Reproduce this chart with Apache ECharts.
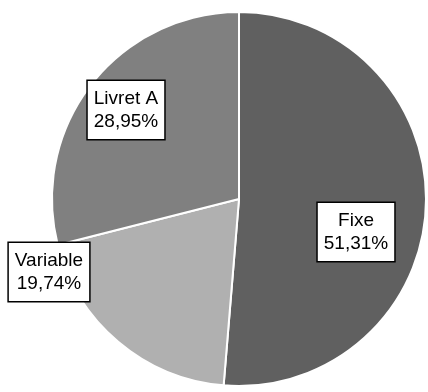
<!DOCTYPE html>
<html>
<head>
<meta charset="UTF-8">
<title>Répartition</title>
<script type="text/javascript" src="https://cdn.jsdelivr.net/npm/echarts@6/dist/echarts.min.js"></script>
<style>
  body{margin:0;background:#fff}
</style>
</head>
<body>
<div id="main" style="width:428px;height:392px"></div>
<script type="text/javascript">
	var categories = ['Fixe', 'Variable', 'Livret A'];
	var values = [51.31, 19.74, 28.95];
	var colors = ['#606060', '#b0b0b0', '#808080'];

	// où poser chaque étiquette (centre de la boîte)
	var labelCenters = [[356, 232], [49, 272], [126, 110]];

	var myEcharts = echarts.init(document.getElementById('main'));

	var option = {
	    animation: false,
	    series: [
	        {
	            type: 'pie',
	            center: [239, 199],
	            radius: 187,
	            startAngle: 90,
	            clockwise: true,
	            itemStyle: {
	                borderColor: '#fff',
	                borderWidth: 2
	            },
	            label: {
	                show: true,
	                position: 'inside',
	                formatter: function (p) {
	                    return p.name + '\n' + p.value.toFixed(2).replace('.', ',') + '%';
	                },
	                fontFamily: 'Liberation Sans, Arial',
	                fontSize: 19,
	                lineHeight: 23,
	                color: '#000',
	                backgroundColor: '#fff',
	                borderColor: '#000',
	                borderWidth: 1.5,
	                padding: [7, 6, 5, 6],
	                align: 'center'
	            },
	            labelLine: { show: false },
	            labelLayout: function (params) {
	                var c = labelCenters[params.dataIndex];
	                return { x: c[0], y: c[1], align: 'center', verticalAlign: 'middle' };
	            },
	            data: categories.map(function (name, i) {
	                return { name: name, value: values[i], itemStyle: { color: colors[i] } };
	            })
	        }
	    ]
	};

	myEcharts.setOption(option);
</script>
</body>
</html>
